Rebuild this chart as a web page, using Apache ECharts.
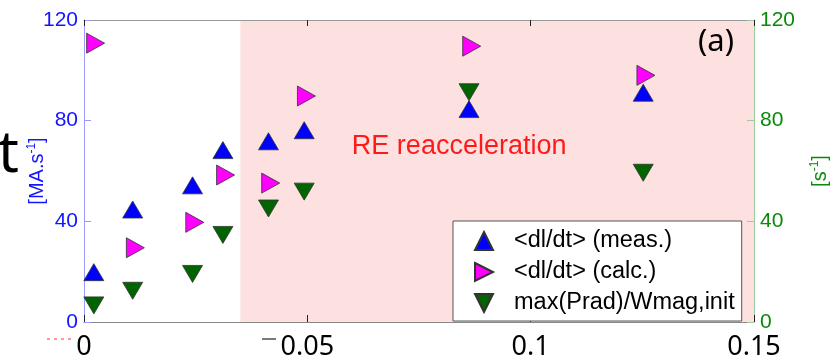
<!DOCTYPE html>
<html>
<head>
<meta charset="utf-8">
<script src="https://cdn.jsdelivr.net/npm/echarts@6/dist/echarts.min.js"></script>
<style>
  html, body { margin: 0; padding: 0; background: #fff; }
  #chart { width: 838px; height: 361px; }
</style>
</head>
<body>
<div id="chart"></div>
<script>
// Series names shown in the legend
const seriesNames = ['<dl/dt> (meas.)', '<dl/dt> (calc.)', 'max(Prad)/Wmag,init'];

// Measured current decay rate [MA/s]
const measX = [0.0022, 0.0109, 0.0243, 0.0311, 0.0413, 0.0493, 0.0862, 0.1252];
const measY = [19.8, 44.7, 54.3, 68.3, 71.8, 76.2, 84.6, 91.1];

// Calculated current decay rate [MA/s]
const calcX = [0.0026, 0.0115, 0.0248, 0.0317, 0.0418, 0.0498, 0.0868, 0.1258];
const calcY = [110.8, 29.5, 39.6, 58.4, 55.2, 89.8, 109.6, 98.0];

// Peak radiated power over initial magnetic energy [1/s]
const radX = [0.0022, 0.0109, 0.0243, 0.0311, 0.0413, 0.0493, 0.0862, 0.1252];
const radY = [6.6, 12.4, 19.1, 34.6, 45.1, 51.8, 91.3, 59.3];

// Axis ticks
const xTicks = [0, 0.05, 0.1, 0.15];
const yTicks = [0, 40, 80, 120];

// Start of the RE reacceleration region
const reStart = 0.035;
const reLabel = 'RE reacceleration';

const zip = (xs, ys) => xs.map((x, i) => [x, ys[i]]);

const TRI_UP = 'path://M5,0 L10,10 L0,10 Z';
const TRI_RIGHT = 'path://M0,0 L10,5 L0,10 Z';
const TRI_DOWN = 'path://M0,0 L10,0 L5,10 Z';

const markStyle = (color) => ({ color: color, opacity: 1, borderColor: '#333', borderWidth: 0.8 });

const chart = echarts.init(document.getElementById('chart'), null, { renderer: 'canvas' });

const yAxisBase = (color, lineColor, position, nameText, nameGap) => ({
  type: 'value',
  position: position,
  min: yTicks[0],
  max: yTicks[yTicks.length - 1],
  interval: yTicks[1] - yTicks[0],
  z: 3,
  axisLine: { show: true, onZero: false, lineStyle: { color: lineColor, width: 1 } },
  axisTick: { show: true, inside: true, length: 7, lineStyle: { color: lineColor } },
  splitLine: { show: false },
  axisLabel: { color: color, fontSize: 21, fontFamily: 'Liberation Sans', margin: 6 },
  name: nameText,
  nameLocation: 'middle',
  nameRotate: 90,
  nameGap: nameGap,
  nameMoveOverlap: false,
  nameTextStyle: {
    color: color, fontSize: 20, fontFamily: 'Liberation Sans',
    rich: {
      n: { color: color, fontSize: 20, fontFamily: 'Liberation Sans' },
      s: { color: color, fontSize: 12, fontFamily: 'Liberation Sans', padding: [0, 0, 10, 0] }
    }
  }
});

const option = {
  animation: false,
  backgroundColor: '#ffffff',
  grid: { left: 84, right: 81, top: 20, bottom: 38 },
  xAxis: [
    {
      type: 'value',
      min: xTicks[0],
      max: xTicks[xTicks.length - 1],
      interval: xTicks[1] - xTicks[0],
      z: 3,
      axisLine: { show: true, onZero: false, lineStyle: { color: '#888', width: 1 } },
      axisTick: { show: true, inside: true, length: 7, lineStyle: { color: '#222' } },
      splitLine: { show: false },
      axisLabel: { color: '#000', fontSize: 27, fontFamily: 'Noto Sans', margin: 12 }
    },
    {
      type: 'value',
      position: 'top',
      min: xTicks[0],
      max: xTicks[xTicks.length - 1],
      interval: xTicks[1] - xTicks[0],
      z: 3,
      axisLine: { show: true, onZero: false, lineStyle: { color: '#999', width: 1 } },
      axisTick: { show: true, inside: true, length: 6, lineStyle: { color: '#222' } },
      splitLine: { show: false },
      axisLabel: { show: false }
    }
  ],
  yAxis: [
    yAxisBase('#1414ff', '#9a9aff', 'left', '{n|[MA.s}{s|-1}{n|]}', 36),
    yAxisBase('#0a8a0a', '#9ccc9c', 'right', '{n|[s}{s|-1}{n|]}', 55)
  ],
  legend: {
    data: seriesNames,
    orient: 'vertical',
    left: 453,
    top: 221,
    backgroundColor: '#ffffff',
    borderColor: '#555',
    borderWidth: 1,
    borderRadius: 0,
    padding: [8, 7, 6, 21],
    itemWidth: 50,
    itemHeight: 18,
    itemGap: 7,
    textStyle: { color: '#000', fontSize: 23.5, lineHeight: 23, fontFamily: 'Liberation Sans' },
    z: 10
  },
  series: [
    {
      name: reLabel,
      type: 'scatter',
      z: 1,
      silent: true,
      data: [],
      markArea: {
        silent: true,
        itemStyle: { color: '#fde0e0' },
        label: {
          show: true,
          position: 'inside',
          offset: [-38, -24],
          color: '#ff1a1a',
          fontSize: 27,
          fontFamily: 'Liberation Sans'
        },
        data: [[{ xAxis: reStart, name: reLabel }, { xAxis: xTicks[xTicks.length - 1] }]]
      }
    },
    {
      name: seriesNames[0],
      type: 'scatter',
      z: 4,
      symbol: TRI_UP,
      symbolSize: [20, 17],
      itemStyle: markStyle('#0000ff'),
      data: zip(measX, measY)
    },
    {
      name: seriesNames[1],
      type: 'scatter',
      z: 4,
      symbol: TRI_RIGHT,
      symbolSize: [18, 20],
      itemStyle: markStyle('#ff00ff'),
      data: zip(calcX, calcY)
    },
    {
      name: seriesNames[2],
      type: 'scatter',
      z: 4,
      yAxisIndex: 1,
      symbol: TRI_DOWN,
      symbolSize: [20, 17],
      itemStyle: markStyle('#006400'),
      data: zip(radX, radY)
    }
  ],
  graphic: [
    {
      type: 'text', left: 698, top: 27, z: 10,
      style: { text: '(a)', fill: '#000', fontSize: 31, fontFamily: 'Noto Sans' }
    },
    {
      type: 'text', left: -2, top: 126, z: 10,
      style: { text: 't', fill: '#000', fontSize: 58, fontFamily: 'Noto Sans' }
    },
    {
      type: 'line', z: 10,
      shape: { x1: 47, y1: 339, x2: 75, y2: 339 },
      style: { stroke: '#ff3030', lineWidth: 1, lineDash: [3, 4] }
    },
    {
      type: 'line', z: 10,
      shape: { x1: 262, y1: 339, x2: 276, y2: 339 },
      style: { stroke: '#222', lineWidth: 1.2 }
    }
  ]
};

chart.setOption(option);
</script>
</body>
</html>
